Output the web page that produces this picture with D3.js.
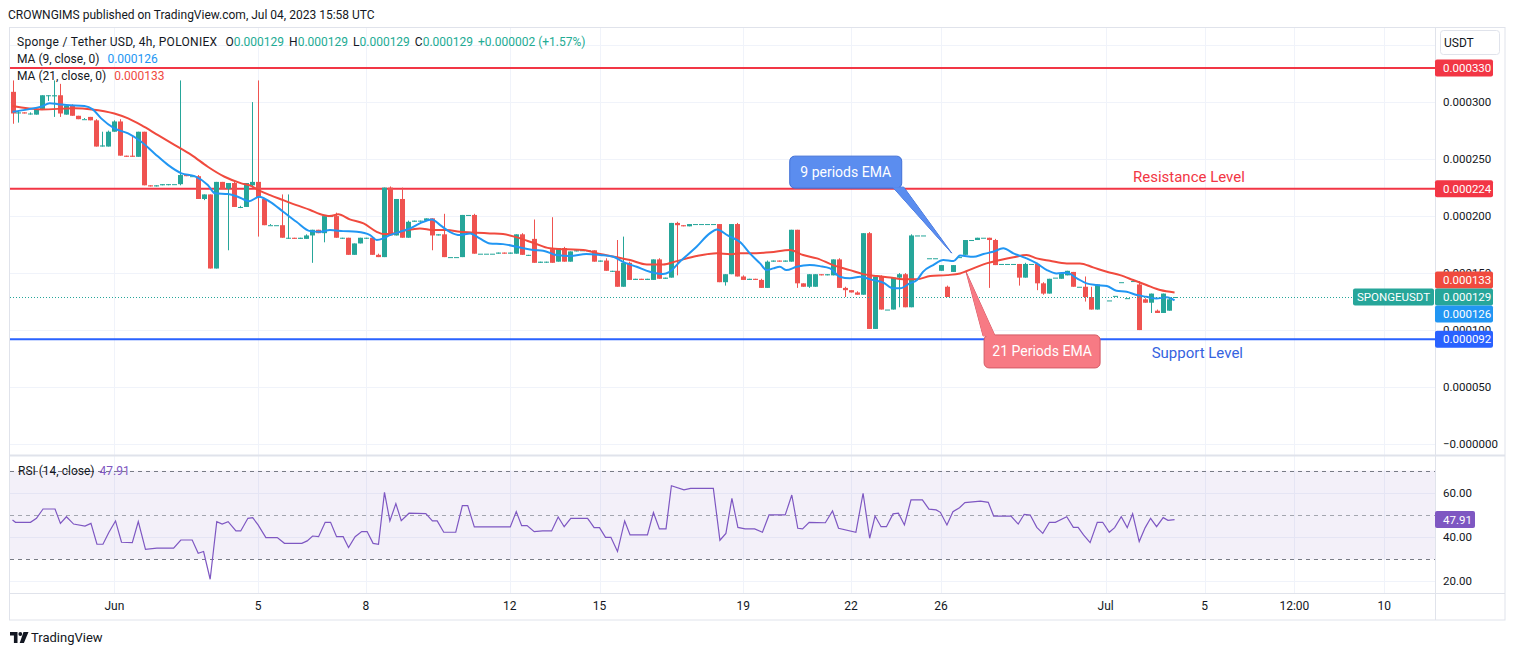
<!DOCTYPE html>
<html>
<head>
<meta charset="utf-8">
<script src="https://cdn.jsdelivr.net/npm/d3@7/dist/d3.min.js"></script>
<style>
body { margin: 0; background: #fff; }
text { font-family: Roboto, "Noto Sans", sans-serif; }
</style>
</head>
<body>
<svg id="chart" width="1515" height="655"></svg>
<script>
// all prices are in millionths of a USDT (129 -> 0.000129)
// one row per 4h bar: [open, high, low, close]; null = no bar drawn
var candles = [
  [309,319,281,290],[290,292,282,291],[291,291,290,290],[290,291,289,290],[289,295,289,294],
  [294,306,293,306],[306,306,301,306],[305,319,287,306],[306,316,287,290],[289,297,289,297],
  [297,298,288,288],[288,288,285,285],[285,286,285,285],[287,287,284,284],[284,285,261,261],
  [261,274,261,262],[261,275,261,274],[274,284,274,283],[283,285,253,253],[253,253,252,252],
  [253,270,252,252],[252,274,252,274],[274,274,227,227],[227,227,226,226],[226,227,226,227],
  [227,228,227,228],[228,228,227,228],[228,228,228,228],[228,319,227,236],[236,236,235,235],
  [235,236,235,235],[235,236,215,215],[215,219,214,219],[219,219,154,154],[154,230,154,230],
  [230,230,224,224],[224,229,170,229],[229,230,208,208],[208,209,207,208],[208,229,208,229],
  [227,300,225,230],[230,319,182,216],[215,216,192,192],[192,193,192,192],[192,192,192,192],
  [192,219,181,181],[181,219,180,181],[181,181,180,180],[180,181,180,181],[180,184,180,183],
  [183,188,159,188],[188,188,185,185],[185,200,177,200],[200,201,200,200],[200,203,181,181],
  [181,181,180,181],[181,181,166,166],[166,176,166,176],[176,181,176,181],[181,181,180,181],
  [181,181,166,166],[166,167,164,164],[164,225,164,225],[225,226,183,183],[183,215,183,215],
  [215,225,181,181],[181,196,181,195],[195,196,195,196],[196,196,195,196],[196,198,196,198],
  [198,198,170,183],[183,184,183,184],[184,202,164,164],[164,164,164,164],[164,164,164,164],
  [164,201,164,201],[201,201,201,201],[201,202,167,167],[167,167,167,167],[167,167,167,167],
  [167,167,167,167],[167,168,167,168],[168,168,167,167],[167,168,167,168],[167,184,167,184],
  [184,185,166,166],[166,166,165,166],[180,197,159,159],[159,160,159,160],[160,160,159,160],
  [171,199,159,159],[160,172,160,172],[172,173,160,160],[160,169,160,169],[169,170,169,170],
  [170,171,170,170],[170,170,169,170],[170,170,160,160],[160,161,160,161],[161,163,152,152],
  [152,152,151,152],[152,179,138,138],[138,182,138,159],[159,160,144,144],[144,145,144,145],
  [145,145,144,144],[144,145,144,145],[144,162,144,162],[162,163,145,145],[145,146,145,146],
  [146,194,146,194],[194,195,148,192],[192,192,191,191],[191,193,191,193],[193,193,193,193],
  [193,193,193,193],[193,193,193,193],[193,193,193,193],[193,193,142,142],[142,149,139,149],
  [149,193,149,193],[193,194,147,147],[147,148,144,144],[144,145,144,145],[145,145,144,144],
  [144,145,137,137],[137,161,137,160],[160,161,160,161],[161,161,160,160],[160,161,160,161],
  [160,188,160,188],[188,188,137,141],[141,141,138,138],[138,149,137,149],[138,149,138,149],
  [149,149,148,148],[148,149,148,149],[148,162,148,162],[162,163,137,137],[137,138,129,135],
  [135,135,133,133],[133,134,131,131],[131,185,131,185],[185,186,101,101],[101,147,101,147],
  [147,148,118,118],[118,118,118,118],[118,146,118,146],[146,150,120,149],[149,150,120,120],
  [120,184,120,183],[183,183,183,183],[183,183,183,183],[163,163,163,163],[163,163,163,163],
  [152,157,152,157],[138,139,129,129],[151,157,151,157],[164,164,164,164],[166,179,166,179],
  [179,179,179,179],[179,181,179,181],[181,181,181,181],[181,181,137,179],[179,180,157,157],
  [158,158,158,158],[158,158,158,158],[158,158,158,158],[158,158,139,146],[146,159,146,158],
  [158,158,158,158],[158,159,135,141],[141,142,131,132],[132,145,132,145],[146,146,146,146],
  [145,150,145,150],[148,152,148,152],[151,151,138,138],[138,138,138,138],[138,147,125,129],
  [129,138,118,118],[118,140,118,140],null,[126,126,126,126],[130,130,130,130],
  [142,142,142,142],[128,128,128,128],[143,143,143,143],[140,143,100,100],[127,128,124,124],
  [124,132,115,132],[117,118,115,115],[115,132,115,132],[117,128,117,127],[129,129,129,129]
]

// moving averages: [bar, value]
var ma9 = [
  [0,291.5],[2.6,293.6],[4.8,296],[6.2,298.9],[7.6,298.2],[9,297.4],[12,296.5],[13.4,293.6],
  [14.8,285.7],[17,277],[19.3,272.5],[21.5,265.2],[23.7,255],[26,244.7],[28.2,237.5],[30.4,235],
  [32.6,227.2],[33.8,220],[36,219.3],[37.6,217],[39.5,213],[41.2,217],[43,212.5],[45.2,203.8],
  [47.4,195],[49.7,186.8],[51.3,186.2],[53,187.7],[55.2,186.8],[57.5,186.2],[59.7,183.3],[60.8,179],
  [61.9,180.4],[63,183.3],[64.7,186.2],[66.4,189.2],[68,193.6],[70,197.1],[71.4,192.1],[73,186.2],
  [74.7,183.3],[76.4,184.8],[78,180.4],[79.7,176],[81.9,175.4],[84.2,173.1],[85.3,171.7],[86.9,170.2],
  [88.6,169.6],[90.8,165.8],[93.1,164.9],[95.8,166.7],[98.1,165.8],[100.3,164.3],[101.9,159.9],
  [104.2,155.5],[106.4,151.1],[108.6,149.1],[109.7,151.1],[111.4,159.9],[114.2,173.1],[116.4,184.8],
  [117.6,188.3],[119.4,183],[121.5,177],[123.1,167.3],[124.8,158.5],[125.9,152.6],[127,154.1],
  [128.1,155.5],[129.2,152.6],[130.9,155.5],[133.1,157],[134.8,156.1],[136.5,154.1],[138.1,146.8],
  [139.8,145.4],[141.5,146.8],[143.2,144.5],[145.4,141.5],[147,136.6],[148.2,136.6],[149.8,141],
  [151,143.9],[152,151.1],[153.7,157],[155.4,161.4],[157.1,160.5],[158.2,165.4],[160.4,164.3],
  [162.1,166.7],[163.7,168.7],[165.4,171.7],[167.1,167.3],[169.3,162.9],[171,158.5],[172.7,152.6],
  [174.3,149.7],[176,150.3],[177.7,145.4],[179.3,141],[181,139.5],[182.7,138.6],[184.3,134.5],
  [186,133.6],[187.7,130.7],[189.3,129.2],[191,127.8],[192.7,128.7],[194,126]
]
var ma21 = [
  [0,296.5],[4.8,293.6],[10.4,294.5],[13.2,293.6],[17,290],[19.3,285.7],[21.5,279.8],[24.3,271],
  [27.1,262.3],[29.9,253.5],[32.6,243.3],[35.4,234.5],[38.2,228.7],[39.8,226.5],[41.3,222.2],
  [43,218.4],[45.2,214],[47.4,209.6],[49.7,205.3],[51.3,201.8],[53,200],[54.4,201.5],[56.3,197.1],
  [58.6,193.6],[60.8,186.2],[61.9,184.2],[63.6,184.8],[65.8,187.7],[68,189.2],[70.3,187.7],
  [72.5,187.7],[74.7,186.2],[77.5,185.4],[79.7,184.8],[81.9,184.2],[84.2,181.3],[86.9,176.6],
  [89.7,171.7],[92.5,170.8],[95.3,170.2],[98.1,166.7],[100.9,163.8],[103.1,161.4],[105.9,157.6],
  [108.6,157.6],[110.9,160.5],[114.2,164.9],[117.6,167.3],[119.8,166.5],[121.5,167.5],[123.1,167.3],
  [126.5,168.2],[129.8,170.2],[132,165.8],[134.3,162.9],[137,157],[139.8,152.6],[142,149.1],
  [144.3,147.4],[146.5,146.2],[148.7,144.5],[151,144.5],[153.2,147.4],[156,148.2],[158.2,149.7],
  [160.4,154.1],[162.6,158.5],[164.9,161.4],[167.1,163.8],[169.3,165.8],[171,162.9],[173.2,160.8],
  [176,158.5],[178.2,158.5],[180.4,155],[182.7,151.1],[184.9,148.2],[187.1,143.9],[189.3,139.5],
  [191.6,135.1],[194,133]
]

// RSI(14): [bar, value]
var rsi = [
  [0,47.7],[0.5,46.7],[3,46.7],[4,48.5],[5.1,52.7],[7.1,52.7],[8,46.2],[9,49.2],[10.2,45.9],
  [12.1,45],[13.1,46.2],[14.1,36.8],[15.1,36.8],[16.1,42.2],[17.2,47.3],[18.2,37.7],[20,37.5],
  [21,47],[22.2,34.5],[24.1,35],[26.9,35],[28.1,38.7],[30,38.7],[31,32.7],[31.9,33.5],[33,21],
  [34.1,47],[35,45.9],[36,47],[37.3,42.8],[38.1,42.8],[39.3,48.5],[40.1,48.8],[41,45.5],
  [42.3,39.8],[44.2,39.8],[45.4,37.2],[48.3,37.2],[49.2,38.3],[50.1,40.5],[51.1,40.2],[52.2,46.7],
  [53.1,46.7],[54.1,40.2],[55.2,40.2],[56.1,35.3],[57.2,40.2],[58.3,42.5],[59.2,42.5],[60.2,37.2],
  [61.1,36.8],[62.1,60.2],[63,47.3],[64,55.1],[64.9,47.4],[66.2,50.8],[69,50.6],[70.1,47.3],
  [70.9,47.3],[72,42.2],[74,42.2],[75.1,54.2],[76,54.2],[77.1,44.6],[83.1,44.6],[84.1,51.5],
  [85,45.2],[85.9,45.2],[87.1,42.5],[88.5,42.8],[90,42.8],[91.1,49.1],[92.1,44.7],[93.2,48.5],
  [96,48.5],[96.4,47],[97.1,44.3],[98,44.3],[99,39.9],[99.9,39.9],[101,33.5],[102.2,47.3],
  [103.1,41],[106,41],[107,51.1],[108,43.7],[109.1,43.7],[110,63.2],[112.1,61.3],[113.2,62],
  [117,62],[118.1,38.6],[119.1,41.7],[120.1,57.5],[121.1,44.4],[122.3,43.7],[123.9,43.7],
  [125.2,42.2],[126.3,50],[129,50],[130.1,59],[131.1,44],[131.9,43.7],[133,46.7],[135.7,46.5],
  [136.9,51.8],[137.9,44],[140.8,42.2],[142,59.8],[143.1,39.5],[144,49.5],[145,44.7],[145.9,44.7],
  [147,50.5],[147.9,50.8],[148.9,45.5],[150,56.8],[151.9,56.8],[153,52.6],[154.2,52.3],[154.9,51.2],
  [156,45.5],[157,51.5],[158.1,53.3],[159,55.6],[161.6,56.2],[162.9,55.7],[163.8,49.5],[166.7,49.5],
  [167.9,45.9],[168.9,50.3],[169.9,50],[171,44.4],[172,41.7],[173.1,46.7],[174.1,46.7],[176,49.2],
  [177.1,44.4],[177.9,44.4],[178.8,41],[179.9,37.5],[181.1,46.7],[182,46.7],[183.1,42.2],[184,44.3],
  [185.1,49.2],[186.1,44.3],[187,50.5],[188.1,38],[189.1,44.3],[190,48.5],[191,44.7],[192.1,48.8],
  [192.9,47.6],[194,47.91]
]

var gridPrices = [0, 50, 100, 150, 200, 250, 300, 350]
var priceTicks = [0, 50, 100, 150, 200, 250, 300]
var rsiTicks = [20, 40, 60]
var rsiLevels = [70, 50, 30]
var timeTicks = [[17,'Jun'],[41,'5'],[59,'8'],[83,'12'],[98,'15'],[122,'19'],[140,'22'],
                 [155,'26'],[182.5,'Jul'],[199,'5'],[214,'12:00'],[229,'10']]
var resistanceLevels = [330, 224]
var supportLevels = [92]
var lastClose = 129, lastMa9 = 126, lastMa21 = 133, lastRsi = 47.91
var ohlcLegend = ['0.000129','0.000129','0.000129','0.000129']
var changeLegend = '+0.000002 (+1.57%)'
// callouts: [bar, value the pointer touches, text]
var callouts = [[156.8, 167.5, '9 periods EMA'], [159.2, 151, '21 Periods EMA']]

var UP = '#26a69a', DOWN = '#ef5350', MA9C = '#2196f3', MA21C = '#f04a3e'
var RES = '#f23645', SUP = '#2962ff', RSIC = '#7e57c2', TXT = '#131722'
var GRID = '#f0f3fa', BORDER = '#e0e3eb'

var left = 10, axisX = 1435, right = 1505
var mainTop = 28, mainBottom = 455, rsiTop = 456, rsiBottom = 593, timeBottom = 620

var svg = d3.select('#chart')
var fmt = function (v) { return d3.format('.6f')(v / 1e6) }

var x = d3.scaleLinear().domain([0, 236]).range([12.5, 12.5 + 5.99 * 236])
var y = d3.scaleLinear().domain([-9.6, 365]).range([mainBottom, mainTop])
var yr = d3.scaleLinear().domain([14.8, 76.6]).range([rsiBottom, rsiTop])

var defs = svg.append('defs')
defs.append('clipPath').attr('id', 'clipMain').append('rect')
    .attr('x', left).attr('y', mainTop).attr('width', axisX - left).attr('height', mainBottom - mainTop)
defs.append('clipPath').attr('id', 'clipRsi').append('rect')
    .attr('x', left).attr('y', rsiTop).attr('width', axisX - left).attr('height', rsiBottom - rsiTop)

// header
svg.append('text').attr('x', 8).attr('y', 19).attr('font-size', 12).attr('fill', TXT)
    .text('CROWNGIMS published on TradingView.com, Jul 04, 2023 15:58 UTC')

// grid
var grid = svg.append('g')
grid.selectAll('line.v').data(timeTicks).enter().append('line')
    .attr('x1', function (d) { return Math.round(x(d[0])) + 0.5 })
    .attr('x2', function (d) { return Math.round(x(d[0])) + 0.5 })
    .attr('y1', mainTop).attr('y2', rsiBottom)
    .attr('stroke', GRID)
grid.selectAll('line.h').data(gridPrices).enter().append('line')
    .attr('x1', left).attr('x2', axisX)
    .attr('y1', function (d) { return Math.round(y(d)) + 0.5 })
    .attr('y2', function (d) { return Math.round(y(d)) + 0.5 })
    .attr('stroke', GRID)

// frame
svg.append('rect').attr('x', 9.5).attr('y', 27.5).attr('width', right - 9.5).attr('height', timeBottom - 27.5)
    .attr('fill', 'none').attr('stroke', BORDER)
svg.append('line').attr('x1', 9.5).attr('x2', right).attr('y1', mainBottom + 0.5).attr('y2', mainBottom + 0.5)
    .attr('stroke', BORDER).attr('stroke-width', 2)
svg.append('line').attr('x1', 9.5).attr('x2', right).attr('y1', rsiBottom + 0.5).attr('y2', rsiBottom + 0.5)
    .attr('stroke', BORDER)
svg.append('line').attr('x1', axisX + 0.5).attr('x2', axisX + 0.5).attr('y1', 27.5).attr('y2', timeBottom)
    .attr('stroke', BORDER)

var main = svg.append('g').attr('clip-path', 'url(#clipMain)')

// horizontal levels
main.selectAll('line.res').data(resistanceLevels).enter().append('line')
    .attr('x1', left).attr('x2', axisX).attr('y1', y).attr('y2', y)
    .attr('stroke', RES).attr('stroke-width', 2)
main.selectAll('line.sup').data(supportLevels).enter().append('line')
    .attr('x1', left).attr('x2', axisX).attr('y1', y).attr('y2', y)
    .attr('stroke', SUP).attr('stroke-width', 2)

// candles
var bars = candles.map(function (c, i) { return {i: i, c: c} }).filter(function (d) { return d.c })
var colorOf = function (d) { return d.c[3] >= d.c[0] ? UP : DOWN }
main.selectAll('line.wick').data(bars).enter().append('line')
    .attr('x1', function (d) { return Math.round(x(d.i)) + 0.5 })
    .attr('x2', function (d) { return Math.round(x(d.i)) + 0.5 })
    .attr('y1', function (d) { return y(d.c[1]) })
    .attr('y2', function (d) { return y(d.c[2]) })
    .attr('stroke', colorOf)
main.selectAll('rect.body').data(bars).enter().append('rect')
    .attr('x', function (d) { return Math.round(x(d.i)) - 2 })
    .attr('width', 5)
    .attr('y', function (d) { return y(Math.max(d.c[0], d.c[3])) })
    .attr('height', function (d) { return Math.max(1, Math.abs(y(d.c[0]) - y(d.c[3]))) })
    .attr('fill', colorOf)

// moving averages
var line = d3.line().x(function (d) { return x(d[0]) }).y(function (d) { return y(d[1]) })
    .curve(d3.curveMonotoneX)
main.append('path').datum(ma21).attr('d', line).attr('fill', 'none')
    .attr('stroke', MA21C).attr('stroke-width', 2)
main.append('path').datum(ma9).attr('d', line).attr('fill', 'none')
    .attr('stroke', MA9C).attr('stroke-width', 2)

// last price line
main.append('line').attr('x1', left).attr('x2', 1353)
    .attr('y1', Math.round(y(lastClose)) + 0.5).attr('y2', Math.round(y(lastClose)) + 0.5)
    .attr('stroke', UP).attr('stroke-dasharray', '1,2')

// callouts
function callout(c, fill, stroke, box, base) {
    var tx = x(c[0]), ty = y(c[1])
    var tri = 'M' + (tx + base[0]) + ',' + (ty + base[1]) + 'L' + tx + ',' + ty +
              'L' + (tx + base[2]) + ',' + (ty + base[3]) + 'Z'
    var g = svg.append('g')
    g.append('path').attr('d', tri).attr('fill', fill).attr('stroke', stroke)
    g.append('rect').attr('x', tx + box[0]).attr('y', ty + box[1])
        .attr('width', box[2]).attr('height', box[3]).attr('rx', 5)
        .attr('fill', fill).attr('stroke', stroke)
    g.append('path').attr('d', tri).attr('fill', fill)
    g.append('text').attr('x', tx + box[0] + box[2] / 2).attr('y', ty + box[1] + box[3] / 2 + 5)
        .attr('text-anchor', 'middle').attr('font-size', 14).attr('fill', '#fff')
        .text(c[2])
}
callout(callouts[0], '#5b8def', '#3f6fd6', [-162, -97, 112, 32], [-59, -66, -48, -66])
callout(callouts[1], '#f77a84', '#d45b66', [18, 63, 116, 33], [17, 64, 29, 64])

svg.append('text').attr('x', x(196.4)).attr('y', y(resistanceLevels[1]) - 7)
    .attr('text-anchor', 'middle').attr('font-size', 15).attr('fill', RES).text('Resistance Level')
svg.append('text').attr('x', x(197.8)).attr('y', y(supportLevels[0]) + 19)
    .attr('text-anchor', 'middle').attr('font-size', 15).attr('fill', '#3563e0').text('Support Level')

// legends
var leg1 = svg.append('text').attr('x', 17).attr('y', 46).attr('font-size', 12).attr('fill', TXT)
leg1.append('tspan').attr('letter-spacing', 0.3).text('Sponge / Tether USD, 4h, POLONIEX')
var ohlcNames = ['O', 'H', 'L', 'C']
ohlcNames.forEach(function (n, k) {
    leg1.append('tspan').attr('dx', k == 0 ? 8 : 5).text(n)
    leg1.append('tspan').attr('fill', '#22ab94').text(ohlcLegend[k])
})
leg1.append('tspan').attr('dx', 5).attr('fill', '#22ab94').text(changeLegend)

var leg2 = svg.append('text').attr('x', 17).attr('y', 63).attr('font-size', 12).attr('fill', TXT)
leg2.append('tspan').text('MA (9, close, 0)')
leg2.append('tspan').attr('dx', 8).attr('fill', MA9C).text(fmt(lastMa9))
var leg3 = svg.append('text').attr('x', 17).attr('y', 80).attr('font-size', 12).attr('fill', TXT)
leg3.append('tspan').text('MA (21, close, 0)')
leg3.append('tspan').attr('dx', 8).attr('fill', MA21C).text(fmt(lastMa21))

// price axis
var axisG = svg.append('g')
axisG.selectAll('text').data(priceTicks).enter().append('text')
    .attr('x', 1443).attr('y', function (d) { return y(d) + 4 })
    .attr('font-size', 11.5).attr('fill', TXT)
    .text(function (d) { return d == 0 ? '\u22120.000000' : fmt(d) })

axisG.append('rect').attr('x', 1440.5).attr('y', 30.5).attr('width', 59).attr('height', 24).attr('rx', 3)
    .attr('fill', '#fff').attr('stroke', BORDER)
axisG.append('text').attr('x', 1444).attr('y', 47).attr('font-size', 12).attr('fill', TXT).text('USDT')

// coloured value labels, pushed apart around the last price
var tags = []
resistanceLevels.forEach(function (v) { tags.push({v: v, c: RES}) })
tags.push({v: lastMa21, c: MA21C})
tags.push({v: lastClose, c: UP, fixed: true})
tags.push({v: lastMa9, c: MA9C})
supportLevels.forEach(function (v) { tags.push({v: v, c: SUP}) })
tags.forEach(function (t) { t.y = y(t.v) })
var fi = tags.findIndex(function (t) { return t.fixed })
for (var k = fi - 1; k >= 0; k--) tags[k].y = Math.min(tags[k].y, tags[k + 1].y - 17)
for (var k = fi + 1; k < tags.length; k++) tags[k].y = Math.max(tags[k].y, tags[k - 1].y + 17)

var tagG = axisG.selectAll('g.tag').data(tags).enter().append('g')
tagG.append('rect').attr('x', axisX).attr('y', function (d) { return d.y - 8.5 })
    .attr('width', 58).attr('height', 17).attr('rx', 2).attr('fill', function (d) { return d.c })
tagG.append('text').attr('x', 1443).attr('y', function (d) { return d.y + 4 })
    .attr('font-size', 11.5).attr('fill', '#fff').text(function (d) { return fmt(d.v) })

svg.append('rect').attr('x', 1353).attr('y', y(lastClose) - 8.5).attr('width', 81).attr('height', 17)
    .attr('rx', 2).attr('fill', UP)
svg.append('text').attr('x', 1393.5).attr('y', y(lastClose) + 4).attr('text-anchor', 'middle')
    .attr('font-size', 11.5).attr('fill', '#fff').text('SPONGEUSDT')

// RSI pane
var rp = svg.append('g').attr('clip-path', 'url(#clipRsi)')
rp.selectAll('line.g').data(rsiTicks).enter().append('line')
    .attr('x1', left).attr('x2', axisX)
    .attr('y1', function (d) { return Math.round(yr(d)) + 0.5 })
    .attr('y2', function (d) { return Math.round(yr(d)) + 0.5 })
    .attr('stroke', GRID)
rp.append('rect').attr('x', left).attr('width', axisX - left)
    .attr('y', yr(rsiLevels[0])).attr('height', yr(rsiLevels[2]) - yr(rsiLevels[0]))
    .attr('fill', RSIC).attr('fill-opacity', 0.09)
rp.selectAll('line.lv').data(rsiLevels).enter().append('line')
    .attr('x1', left).attr('x2', axisX)
    .attr('y1', function (d) { return Math.round(yr(d)) + 0.5 })
    .attr('y2', function (d) { return Math.round(yr(d)) + 0.5 })
    .attr('stroke', function (d) { return d == 50 ? '#a3a6af' : '#787b86' })
    .attr('stroke-dasharray', '4,4')
rp.append('path').datum(rsi)
    .attr('d', d3.line().x(function (d) { return x(d[0]) }).y(function (d) { return yr(d[1]) }))
    .attr('fill', 'none').attr('stroke', RSIC).attr('stroke-width', 1.2)

var rl = svg.append('text').attr('x', 18).attr('y', 475).attr('font-size', 12).attr('fill', TXT)
rl.append('tspan').text('RSI (14, close)')
rl.append('tspan').attr('dx', 5).attr('fill', RSIC).text(lastRsi.toFixed(2))

svg.selectAll('text.rt').data(rsiTicks).enter().append('text')
    .attr('x', 1443).attr('y', function (d) { return yr(d) + 4 })
    .attr('font-size', 11.5).attr('fill', TXT).text(function (d) { return d.toFixed(2) })
svg.append('rect').attr('x', axisX).attr('y', yr(lastRsi) - 8.5).attr('width', 40).attr('height', 17)
    .attr('rx', 2).attr('fill', RSIC)
svg.append('text').attr('x', 1443).attr('y', yr(lastRsi) + 4).attr('font-size', 11.5)
    .attr('fill', '#fff').text(lastRsi.toFixed(2))

// time axis
svg.selectAll('text.tt').data(timeTicks).enter().append('text')
    .attr('x', function (d) { return x(d[0]) }).attr('y', 610)
    .attr('text-anchor', 'middle').attr('font-size', 12).attr('fill', TXT)
    .text(function (d) { return d[1] })

// TradingView mark
var logo = svg.append('g').attr('fill', TXT)
logo.append('path').attr('d', 'M10,632h7.5v11h-3.6v-7.4h-3.9z')
logo.append('circle').attr('cx', 20.3).attr('cy', 634).attr('r', 1.9)
logo.append('path').attr('d', 'M23.5,632h5l-4.6,11h-4.2z')
svg.append('text').attr('x', 31).attr('y', 642).attr('font-size', 13).attr('fill', TXT).text('TradingView')
</script>
</body>
</html>
